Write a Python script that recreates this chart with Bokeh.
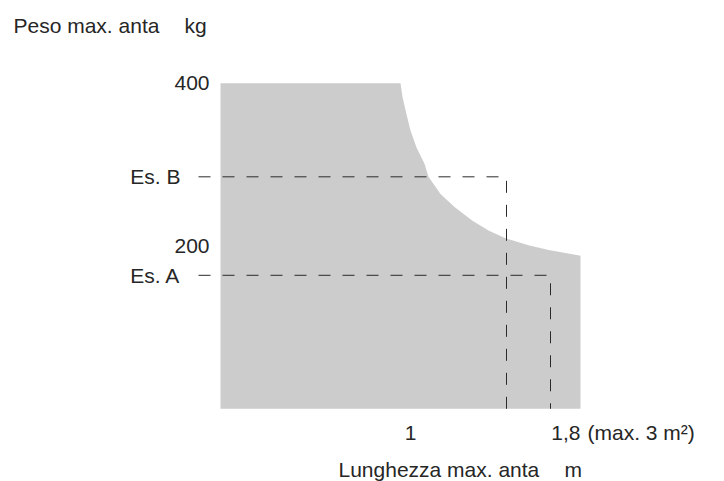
from bokeh.plotting import figure
from bokeh.models import Range1d, ColumnDataSource, Label
from bokeh.core.properties import value
from bokeh.embed import file_html
from bokeh.resources import INLINE

# ---- data ----
max_length = 1.8            # m
max_weight = 400            # kg
curve_length = [0.90, 0.91, 0.93, 0.95, 0.98, 1.02, 1.04, 1.10, 1.17, 1.26,
                1.34, 1.43, 1.54, 1.64, 1.76, 1.80]
curve_weight = [400, 383, 362, 342, 321, 301, 285, 264, 248, 231,
                219, 209, 201, 195, 190, 188]

y_ticks = [400, 200]
y_tick_labels = ["400", "200"]
x_ticks = [1, 1.8]
x_tick_labels = ["1", "1,8"]

example_names = ["Es. B", "Es. A"]
example_length = [1.43, 1.65]
example_weight = [285, 164]

y_title = "Peso max. anta\u2002\u2002\u2009kg"
x_title = "Lunghezza max. anta\u2003\u2009m"
area_note = "(max. 3 m\u00b2)"

# ---- style ----
FONT = value("Liberation Sans")
FS = "21px"
TXT = "#262626"
LEADER_START = -0.11

p = figure(width=724, height=481, output_backend="svg", toolbar_location=None,
           x_range=Range1d(-1.1, 2.52), y_range=Range1d(-89.3, 501.6),
           x_axis_location=None, y_axis_location=None, min_border=0,
           outline_line_color=None, background_fill_color="white")
p.xgrid.visible = False
p.ygrid.visible = False

# gray permitted area
area_x = [0, 0] + curve_length + [max_length]
area_y = [0, max_weight] + curve_weight + [0]
p.patch(area_x, area_y, fill_color="#cccccc", line_color=None)

# example dashed leaders
for L, W in zip(example_length, example_weight):
    p.line([LEADER_START, L, L], [W, W, 0], line_color="#2a2a2a",
           line_width=1, line_dash="12 12")

# y tick labels
p.text(x=[0] * len(y_ticks), y=y_ticks, text=y_tick_labels, x_offset=-11,
       text_align="right", text_baseline="middle", text_font=FONT,
       text_font_size=FS, text_color=TXT)
# example labels
p.text(x=[0] * len(example_weight), y=example_weight, text=example_names,
       x_offset=-40, text_align="right", text_baseline="middle",
       text_font=FONT, text_font_size=FS, text_color=TXT)
# x tick labels
src = ColumnDataSource(dict(x=x_ticks, y=[0, 0], t=x_tick_labels,
                            al=["center", "right"], xo=[-10, 0]))
p.text(x="x", y="y", text="t", source=src, text_align="al", x_offset="xo",
       y_offset=24, text_baseline="alphabetic", text_font=FONT,
       text_font_size=FS, text_color=TXT)
p.text(x=[max_length], y=[0], text=[area_note], x_offset=7, y_offset=24,
       text_align="left", text_baseline="alphabetic", text_font=FONT,
       text_font_size=FS, text_color=TXT)

# axis titles
p.add_layout(Label(x=13, y=456, x_units="screen", y_units="screen", text=y_title,
                   text_font="Liberation Sans", text_font_size=FS,
                   text_color=TXT, text_baseline="alphabetic"))
p.add_layout(Label(x=338, y=12, x_units="screen", y_units="screen", text=x_title,
                   text_font="Liberation Sans", text_font_size=FS,
                   text_color=TXT, text_baseline="alphabetic"))

open("out.html", "w").write(file_html(p, INLINE))
